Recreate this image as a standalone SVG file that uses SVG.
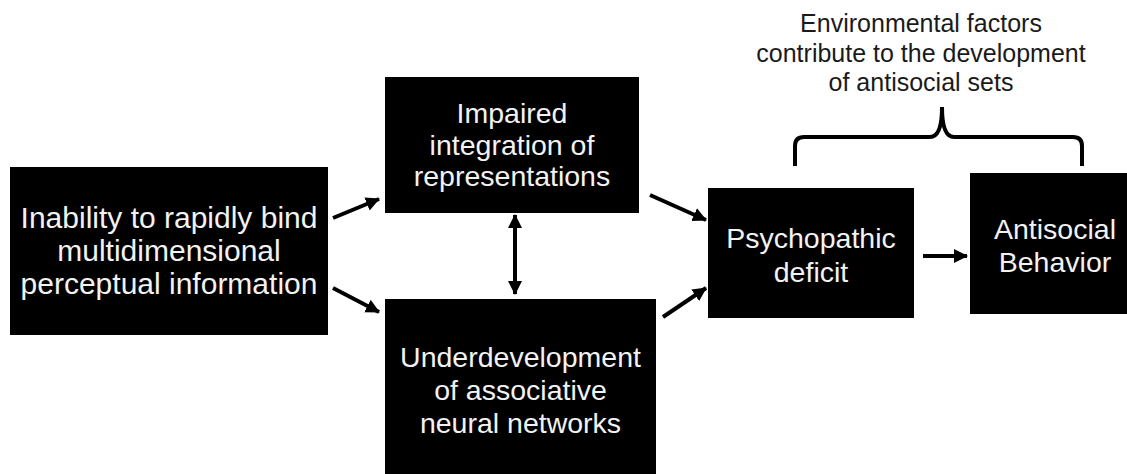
<svg xmlns="http://www.w3.org/2000/svg" width="1127" height="474" viewBox="0 0 1127 474">
<defs>
<style>
.box{fill:#000;}
.t{font-family:"Liberation Sans",Arial,sans-serif;fill:#f2f2f2;text-anchor:middle;font-size:28.5px;}
.t1{font-size:30px;}
.lbl{font-family:"Liberation Sans",Arial,sans-serif;fill:#1a1a1a;text-anchor:middle;font-size:25px;}
.conn{stroke:#000;stroke-width:4;fill:none;}
</style>
<marker id="ah" viewBox="0 0 14 14" markerUnits="userSpaceOnUse" markerWidth="14" markerHeight="15" refX="13" refY="7" orient="auto-start-reverse">
<path d="M0,0 L14,7 L0,14 z" fill="#000"/>
</marker>
</defs>
<rect width="1127" height="474" fill="#fff"/>
<g id="n1">
<rect class="box" x="10" y="167" width="318" height="168"/>
<text class="t t1" x="169" y="228">Inability to rapidly bind</text>
<text class="t t1" x="169" y="261">multidimensional</text>
<text class="t t1" x="169" y="294">perceptual information</text>
</g>
<g id="n2">
<rect class="box" x="385" y="77" width="254" height="136"/>
<text class="t" x="512" y="123">Impaired</text>
<text class="t" x="512" y="155">integration of</text>
<text class="t" x="512" y="186">representations</text>
</g>
<g id="n3">
<rect class="box" x="385" y="299" width="271" height="185"/>
<text class="t" x="520.5" y="367">Underdevelopment</text>
<text class="t" x="520.5" y="400">of associative</text>
<text class="t" x="520.5" y="433">neural networks</text>
</g>
<g id="n4">
<rect class="box" x="708" y="188" width="206" height="130"/>
<text class="t" x="811" y="248">Psychopathic</text>
<text class="t" x="811" y="282">deficit</text>
</g>
<g id="n5">
<rect class="box" x="970" y="173" width="170" height="141"/>
<text class="t" x="1055" y="239">Antisocial</text>
<text class="t" x="1055" y="272">Behavior</text>
</g>
<g id="note">
<text class="lbl" x="921" y="32">Environmental factors</text>
<text class="lbl" x="921" y="62">contribute to the development</text>
<text class="lbl" x="921" y="91">of antisocial sets</text>
<path class="conn" d="M795,166 V146 Q795,137 804,137 H930 Q942,137 942,107 Q942,137 954,137 H1073 Q1082,137 1082,146 V166"/>
</g>
<g id="connectors">
<line class="conn" x1="333" y1="218" x2="379" y2="199" marker-end="url(#ah)"/>
<line class="conn" x1="333" y1="288" x2="379" y2="312" marker-end="url(#ah)"/>
<line class="conn" x1="515" y1="215" x2="515" y2="294" marker-start="url(#ah)" marker-end="url(#ah)"/>
<line class="conn" x1="650" y1="195" x2="706" y2="220" marker-end="url(#ah)"/>
<line class="conn" x1="663" y1="317" x2="706" y2="288" marker-end="url(#ah)"/>
<line class="conn" x1="923" y1="256" x2="967" y2="256" marker-end="url(#ah)"/>
</g>
</svg>
